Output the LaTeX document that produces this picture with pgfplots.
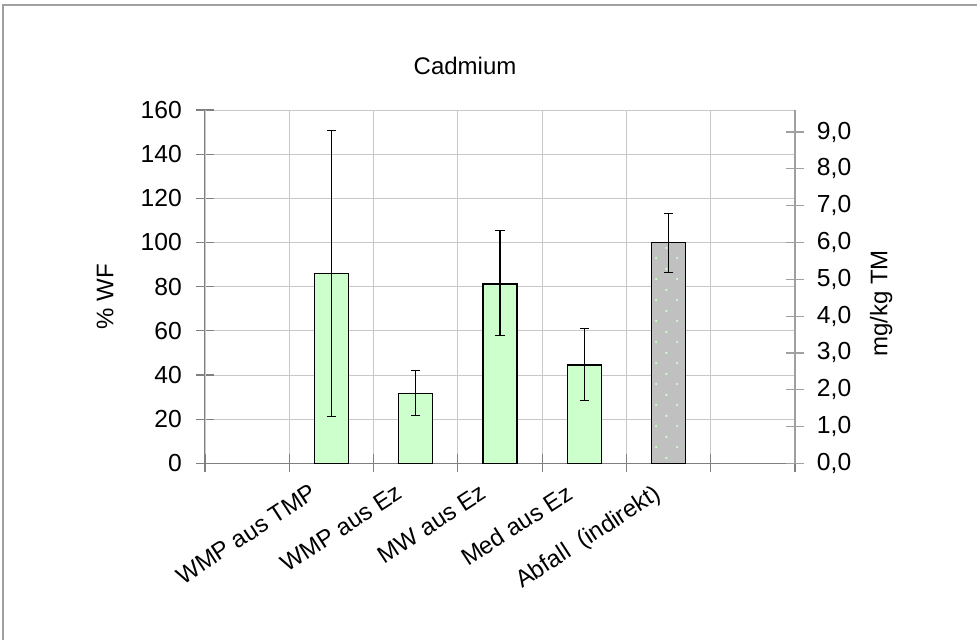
\documentclass[border=0pt]{standalone}
\usepackage{fontspec}
\setmainfont{Liberation Sans}
\usepackage{pgfplots}
\usepackage{pgfplotstable}
\pgfplotsset{compat=1.18}
\usetikzlibrary{patterns.meta}
\definecolor{barg}{HTML}{CCFFCC}
\definecolor{barq}{HTML}{C0C0C0}
\definecolor{gridc}{HTML}{C8C8C8}
\definecolor{axc}{HTML}{808080}
\definecolor{axr}{HTML}{A0A0A0}
\newcommand\f{\fontsize{18}{21}\selectfont}
\newcommand\ft{\fontsize{18.5}{21}\selectfont}
\tikzdeclarepattern{name=sdots, type=uncolored, bottom left={(0pt,0pt)}, top right={(15.75pt,15.75pt)},
  tile size={(15.75pt,15.75pt)},
  code={\fill (3.9pt,3.9pt) circle (1pt); \fill (11.8pt,11.8pt) circle (1pt);}}
\pgfplotstableread{
x y ep em
1.5 86.0 64.6 64.9
2.5 31.7 10.2 10.0
3.5 81.2 24.3 23.2
4.5 44.5 16.6 16.1
}\greentab
\pgfplotstableread{
x y ep em
5.5 100.0 13.2 13.5
}\greytab
\begin{document}
\begin{tikzpicture}
\path[use as bounding box] (0,0) rectangle (732.75pt,480pt);
\draw[axr, line width=1.5pt] (2.25pt,0) -- (2.25pt,476.25pt) -- (732.75pt,476.25pt);
\begin{axis}[at={(153.75pt,132.5pt)}, anchor=south west, scale only axis,
  width=442.5pt, height=265pt,
  xmin=0, xmax=7, ymin=0, ymax=160,
  ytick={0,20,...,160}, ymajorgrids,
  grid style={gridc, line width=0.75pt},
  axis x line*=bottom, axis y line*=left,
  axis line style={axc, line width=0.9pt},
  tick style={axc, line width=0.9pt},
  tick align=center, major tick length=13.5pt,
  /pgf/number format/assume math mode=true,
  every tick label/.append style={font=\ft},
  label style={font=\f},
  xtick={1.24,2.25,3.25,4.27,5.31},
  xticklabels={WMP aus TMP, WMP aus Ez, MW aus Ez, Med aus Ez, Abfall\ \ (indirekt)},
  xtick style={draw=none},
  xticklabel style={rotate=33, anchor=north east, inner sep=0pt, font=\f},
  xticklabel shift=8pt,
  extra x ticks={0,1,2,3,4,5,6,7},
  extra x tick labels={},
  extra x tick style={xmajorgrids=true, xtick style={draw=axc, line width=0.9pt}},
  yticklabel style={inner sep=0pt, anchor=east},
  yticklabel shift=10.5pt,
  title={Cadmium},
  title style={at={(axis description cs:0.4407,1.103)}, anchor=center, font=\f},
  ylabel={\% WF},
  ylabel style={at={(axis description cs:-0.1695,0.471)}, anchor=center},
]
\addplot[ybar, bar width=25.5pt, bar shift=0pt, fill=barg, draw=black, line width=0.9pt,
  error bars/.cd, y dir=both, y explicit, error mark=-,
  error bar style={black, line width=0.8pt},
  error mark options={rotate=90, black, mark size=3.5pt, line width=0.8pt}]
  table[x=x, y=y, y error plus=ep, y error minus=em]{\greentab};
\addplot[ybar, bar width=25.5pt, bar shift=0pt, fill=barq, draw=black, line width=0.9pt,
  postaction={pattern={sdots}, pattern color=barg},
  error bars/.cd, y dir=both, y explicit, error mark=-,
  error bar style={black, line width=0.8pt},
  error mark options={rotate=90, black, mark size=3.5pt, line width=0.8pt}]
  table[x=x, y=y, y error plus=ep, y error minus=em]{\greytab};
\end{axis}
\begin{axis}[at={(153.75pt,132.5pt)}, anchor=south west, scale only axis,
  width=442.5pt, height=265pt,
  xmin=0, xmax=7, ymin=0, ymax=9.6,
  ytick={0,1,2,3,4,5,6,7,8,9},
  axis y line*=right, axis x line=none,
  axis line style={axr, line width=0.9pt},
  tick style={axr, line width=0.9pt},
  tick align=center, major tick length=13.5pt,
  every tick label/.append style={font=\ft},
  label style={font=\f},
  yticklabel style={inner sep=0pt, anchor=west,
    /pgf/number format/.cd, fixed, fixed zerofill, precision=1, use comma, assume math mode=true},
  yticklabel shift=9.5pt,
  ylabel={mg/kg TM},
  ylabel style={at={(axis description cs:1.146,0.452)}, anchor=center, rotate=0},
]
\addplot[draw=none] coordinates {(0,0)};
\end{axis}
\end{tikzpicture}
\end{document}
